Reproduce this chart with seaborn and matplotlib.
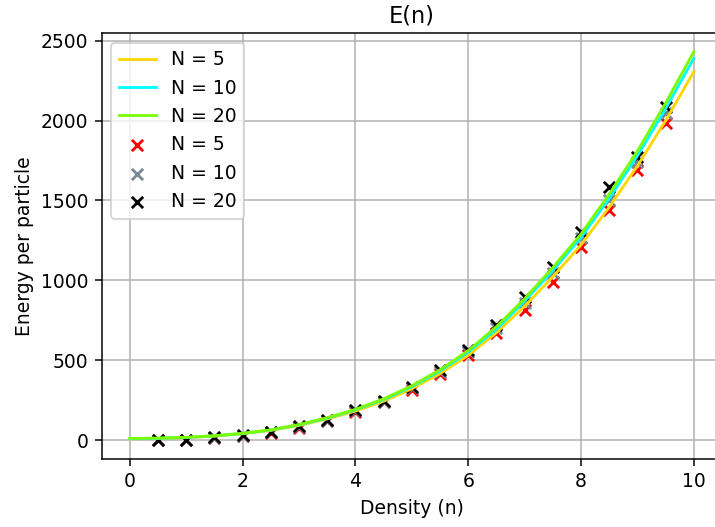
import matplotlib
matplotlib.use("Agg")
import matplotlib.pyplot as plt
import seaborn as sns
import numpy as np

# Density grid for the fitted curves
n_curve = [0.0, 0.5, 1.0, 1.5, 2.0, 2.5, 3.0, 3.5, 4.0, 4.5, 5.0,
           5.5, 6.0, 6.5, 7.0, 7.5, 8.0, 8.5, 9.0, 9.5, 10.0]
curve_n5 = [8, 10, 15, 24, 39, 60, 91, 132, 181, 243, 321,
            416, 530, 672, 838, 1022, 1222, 1458, 1716, 2000, 2306]
curve_n10 = [9, 11, 16, 26, 41, 63, 95, 137, 189, 253, 334,
             432, 550, 693, 870, 1061, 1268, 1513, 1780, 2075, 2390]
curve_n20 = [10, 12, 17, 27, 42, 64, 97, 140, 192, 258, 340,
             440, 560, 710, 885, 1080, 1290, 1540, 1810, 2110, 2432]

# Simulated energies per particle
n_sim = [0.5, 1.0, 1.5, 2.0, 2.5, 3.0, 3.5, 4.0, 4.5, 5.0,
         5.5, 6.0, 6.5, 7.0, 7.5, 8.0, 8.5, 9.0, 9.5]
sim_n5 = [-2, 0, 12, 25, 45, 75, 120, 175, 235, 315,
          415, 535, 670, 814, 991, 1210, 1440, 1691, 1983]
sim_n10 = [0, 0, 15, 28, 48, 82, 122, 182, 240, 326,
           428, 550, 700, 860, 1045, 1265, 1500, 1740, 2050]
sim_n20 = [0, 0, 17, 31, 52, 90, 125, 188, 245, 335,
           440, 565, 720, 897, 1085, 1304, 1586, 1774, 2087]

labels = ["N = 5", "N = 10", "N = 20"]
line_colors = ["#FFD700", "#00FFFF", "#7CFC00"]
marker_colors = ["red", "lightslategray", "black"]

DPI = 135
fig = plt.figure(figsize=(715 / DPI, 527 / DPI), dpi=DPI)
ax = fig.add_axes([0.1422, 0.129, 0.8676, 0.8078])

for ys, c, lab in zip([curve_n5, curve_n10, curve_n20], line_colors, labels):
    sns.lineplot(x=n_curve, y=ys, color=c, label=lab, ax=ax, linewidth=1.5)

for ys, c, lab in zip([sim_n5, sim_n10, sim_n20], marker_colors, labels):
    sns.scatterplot(x=n_sim, y=ys, color=c, marker="x", label=lab, ax=ax,
                    s=36, linewidth=1.5)

ax.set_xlim(-0.5, 10.5)
ax.set_ylim(-119, 2547)
ax.set_xticks([0, 2, 4, 6, 8, 10])
ax.set_yticks([0, 500, 1000, 1500, 2000, 2500])
ax.grid(True, color="#b0b0b0", linewidth=0.8)
ax.set_axisbelow(True)
ax.set_title("E(n)")
ax.set_xlabel("Density (n)")
ax.set_ylabel("Energy per particle")
ax.legend(loc="upper left")

fig.savefig("out.png", dpi=DPI)
